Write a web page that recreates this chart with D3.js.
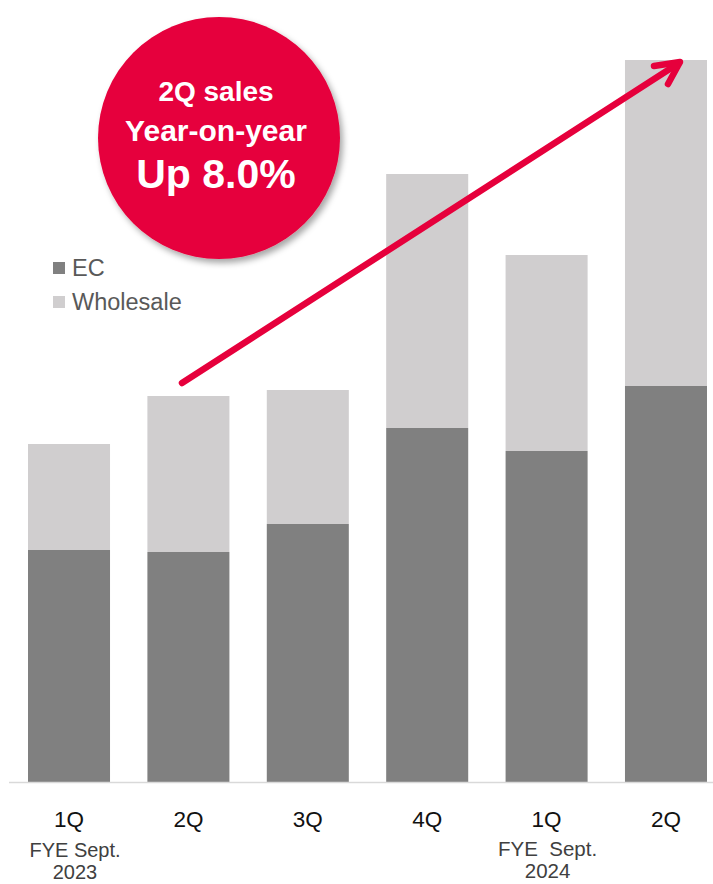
<!DOCTYPE html>
<html>
<head>
<meta charset="utf-8">
<script src="https://cdn.jsdelivr.net/npm/d3@7"></script>
<style>
  html, body { margin: 0; padding: 0; background: #fff; }
  svg { display: block; }
  text { font-family: "Liberation Sans", Arial, Helvetica, sans-serif; }
</style>
</head>
<body>
<svg id="chart" width="713" height="884"></svg>
<script>
// ---- data (arbitrary units) ----
const categories = ["1Q FY23", "2Q FY23", "3Q FY23", "4Q FY23", "1Q FY24", "2Q FY24"];
const quarterLabels = ["1Q", "2Q", "3Q", "4Q", "1Q", "2Q"];
const ecValues = [232, 230, 258, 354, 331, 396];
const wholesaleValues = [106, 156, 134, 254, 196, 326];
const seriesNames = ["EC", "Wholesale"];
const seriesColors = ["#808080", "#d0cecf"];
const fyeLabels = [
  { index: 0, lines: ["FYE Sept.", "2023"] },
  { index: 4, lines: ["FYE  Sept.", "2024"] }
];
const calloutLines = ["2Q sales", "Year-on-year", "Up 8.0%"];

// ---- layout ----
const svg = d3.select("#chart");
const W = 713, H = 884;
const baseY = 782;
const red = "#e6003c";

const x = d3.scaleBand()
  .domain(categories)
  .range([9.3, 725.7])
  .paddingInner(0.313)
  .paddingOuter(0.1566);

const y = d3.scaleLinear()
  .domain([0, 760])
  .range([baseY, baseY - 760]);

const table = categories.map((c, i) => ({ cat: c, EC: ecValues[i], Wholesale: wholesaleValues[i] }));
const stacked = d3.stack().keys(seriesNames)(table);

// defs: shadow
const defs = svg.append("defs");
const f = defs.append("filter").attr("id", "shadow")
  .attr("x", "-20%").attr("y", "-20%").attr("width", "150%").attr("height", "150%");
f.append("feDropShadow").attr("dx", 3).attr("dy", 4).attr("stdDeviation", 3)
  .attr("flood-color", "#000").attr("flood-opacity", 0.35);

// bars
svg.append("g").selectAll("g")
  .data(stacked)
  .join("g")
  .attr("fill", (d, i) => seriesColors[i])
  .selectAll("rect")
  .data(d => d)
  .join("rect")
  .attr("x", d => x(d.data.cat))
  .attr("width", x.bandwidth())
  .attr("y", d => y(d[1]))
  .attr("height", d => y(d[0]) - y(d[1]));

// baseline axis
const axis = d3.axisBottom(x).tickSize(0).tickFormat((d, i) => quarterLabels[i]);
const ax = svg.append("g").attr("transform", `translate(0,${baseY})`).call(axis);
ax.select(".domain").remove();
ax.selectAll(".tick text")
  .attr("dy", 0).attr("y", 45)
  .attr("font-size", 22.5)
  .attr("fill", "#111")
  .attr("font-family", "'Liberation Sans', Arial, sans-serif");
svg.append("line")
  .attr("x1", 9).attr("x2", W)
  .attr("y1", baseY + 0.5).attr("y2", baseY + 0.5)
  .attr("stroke", "#d9d9d9").attr("stroke-width", 1.5);

// fiscal year labels
const fyeStyle = [{ dx: 6, y0: 857, size: 20 }, { dx: 1, y0: 856, size: 20.5 }];
fyeLabels.forEach((fl, k) => {
  const cx = x(categories[fl.index]) + x.bandwidth() / 2 + fyeStyle[k].dx;
  fl.lines.forEach((ln, j) => {
    svg.append("text")
      .attr("text-anchor", "middle")
      .attr("font-size", fyeStyle[k].size)
      .attr("fill", "#404040")
      .attr("xml:space", "preserve")
      .style("white-space", "pre")
      .attr("x", cx).attr("y", fyeStyle[k].y0 + j * 22)
      .text(ln);
  });
});

// legend
const legend = svg.append("g");
seriesNames.forEach((name, i) => {
  const ly = 262 + i * 34;
  legend.append("rect").attr("x", 53).attr("y", ly).attr("width", 12).attr("height", 12)
    .attr("fill", seriesColors[i]);
  legend.append("text").attr("x", 72).attr("y", ly + 13.5)
    .attr("font-size", 23.5).attr("fill", "#595959").text(name);
});

// arrow
const arrow = svg.append("g")
  .attr("stroke", red).attr("stroke-width", 6.5)
  .attr("stroke-linecap", "round").attr("stroke-linejoin", "round").attr("fill", "none");
arrow.append("line").attr("x1", 182).attr("y1", 383).attr("x2", 679).attr("y2", 63);
arrow.append("path").attr("d", "M654,66 L680,62 L668,84");

// callout circle
svg.append("circle")
  .attr("cx", 219).attr("cy", 138).attr("r", 121)
  .attr("fill", red)
  .attr("filter", "url(#shadow)");
const callout = svg.append("g").attr("fill", "#fff").attr("font-weight", "bold").attr("text-anchor", "middle");
const calloutY = [101, 141, 188];
const calloutSize = [28, 30, 41];
calloutLines.forEach((ln, i) => {
  callout.append("text").attr("x", 216).attr("y", calloutY[i])
    .attr("font-size", calloutSize[i]).text(ln);
});
</script>
</body>
</html>
